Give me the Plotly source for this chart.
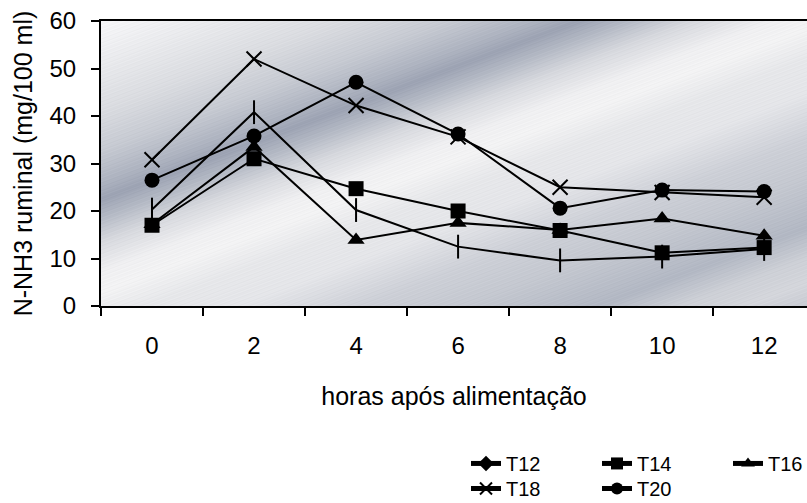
import base64
import struct
import zlib

import numpy as np
import plotly.graph_objects as go

# ---------------- data ----------------
hours = ["0", "2", "4", "6", "8", "10", "12"]
T12 = [20.3, 40.8, 20.2, 12.5, 9.6, 10.4, 12.0]
T14 = [17.0, 31.0, 24.7, 20.0, 15.9, 11.2, 12.3]
T16 = [17.2, 33.5, 13.9, 17.5, 16.0, 18.4, 14.8]
T18 = [30.8, 52.0, 42.2, 35.6, 25.0, 23.9, 22.9]
T20 = [26.5, 35.8, 47.1, 36.2, 20.6, 24.4, 24.1]

y_title = "N-NH3 ruminal (mg/100 ml)"
x_title = "horas após alimentação"


# ---------------- background gradient image ----------------
def make_png(arr):
    h, w, _ = arr.shape
    raw = b"".join(b"\x00" + arr[i].tobytes() for i in range(h))

    def chunk(tag, data):
        c = struct.pack(">I", len(data)) + tag + data
        return c + struct.pack(">I", zlib.crc32(tag + data) & 0xFFFFFFFF)

    return (b"\x89PNG\r\n\x1a\n"
            + chunk(b"IHDR", struct.pack(">IIBBBBB", w, h, 8, 2, 0, 0, 0))
            + chunk(b"IDAT", zlib.compress(raw, 9))
            + chunk(b"IEND", b""))


W, H = 706, 285
xx, yy = np.meshgrid(np.arange(W), np.arange(H))
s = yy + 0.373 * xx
stops = [
    (0, (246, 246, 248)), (40, (232, 233, 236)), (90, (214, 216, 221)),
    (130, (192, 196, 205)), (160, (166, 172, 186)), (178, (146, 153, 171)),
    (195, (170, 176, 189)), (220, (210, 212, 218)), (250, (238, 238, 240)),
    (270, (242, 242, 243)), (300, (228, 229, 232)), (335, (226, 227, 231)),
    (380, (200, 203, 211)), (420, (190, 194, 203)), (470, (170, 176, 189)),
    (500, (200, 203, 210)), (525, (208, 210, 216)), (560, (186, 190, 200)),
]
sp = np.array([p for p, _ in stops], dtype=float)
img = np.zeros((H, W, 3))
for c in range(3):
    img[..., c] = np.interp(s, sp, [col[c] for _, col in stops])
streak = 2.0 * np.sin(s * 1.7) + 1.5 * np.sin(s * 3.1 + 1.0)
img += streak[..., None]
img = 255 - (255 - img) * 0.9
img = np.clip(img, 0, 255).astype(np.uint8)
bg_uri = "data:image/png;base64," + base64.b64encode(make_png(img)).decode()

# ---------------- figure ----------------
fig = go.Figure()
line = dict(color="black", width=2)
series = [
    ("T12", T12, dict(symbol="line-ns-open", size=17, color="black", line=dict(color="black", width=2)), "legend"),
    ("T14", T14, dict(symbol="square", size=15, color="black"), "legend"),
    ("T16", T16, dict(symbol="triangle-up", size=15, color="black"), "legend"),
    ("T18", T18, dict(symbol="x-thin-open", size=15, color="black", line=dict(color="black", width=2)), "legend2"),
    ("T20", T20, dict(symbol="circle", size=15, color="black"), "legend2"),
]
for name, vals, marker, leg in series:
    if name == "T12":
        # legend entry uses a diamond symbol as in the original
        fig.add_trace(go.Scatter(x=[None], y=[None], name=name, mode="lines+markers",
                                 line=line, legend=leg,
                                 marker=dict(symbol="diamond", size=12, color="black")))
        fig.add_trace(go.Scatter(x=hours, y=vals, name=name, mode="lines+markers",
                                 line=line, marker=marker, showlegend=False))
    else:
        fig.add_trace(go.Scatter(x=hours, y=vals, name=name, mode="lines+markers",
                                 line=line, marker=marker, legend=leg))

font_family = "Liberation Sans, Arial, sans-serif"
fig.update_layout(
    width=807, height=503,
    margin=dict(l=101, r=0, t=21, b=197, autoexpand=False),
    paper_bgcolor="white", plot_bgcolor="#dcdee3",
    font=dict(family=font_family, color="black", size=24),
    images=[dict(source=bg_uri, xref="paper", yref="paper", x=0, y=1,
                 sizex=1, sizey=1, sizing="stretch", layer="below",
                 xanchor="left", yanchor="top")],
    xaxis=dict(type="category", range=[-0.5, 6.42], tickson="boundaries",
               ticks="outside", ticklen=8, tickwidth=2, tickcolor="black",
               showline=True, linewidth=2, linecolor="black", mirror=True,
               showgrid=False, zeroline=False, ticklabelstandoff=17,
               tickfont=dict(size=24),
               title=dict(text=x_title, font=dict(size=25), standoff=30)),
    yaxis=dict(range=[0, 60], tickvals=[0, 10, 20, 30, 40, 50, 60],
               ticks="outside", ticklen=8, tickwidth=2, tickcolor="black",
               showline=True, linewidth=2, linecolor="black",
               showgrid=False, zeroline=False, ticklabelstandoff=10,
               tickfont=dict(size=24),
               title=dict(text=y_title, font=dict(size=25), standoff=10)),
    legend=dict(orientation="h", x=0.517, y=-0.484, xanchor="left", yanchor="top",
                font=dict(size=20), entrywidth=86, bgcolor="rgba(0,0,0,0)",
                itemsizing="constant"),
    legend2=dict(orientation="h", x=0.517, y=-0.572, xanchor="left", yanchor="top",
                 font=dict(size=20), entrywidth=86, bgcolor="rgba(0,0,0,0)",
                 itemsizing="constant"),
    showlegend=True,
)

fig.write_html("out.html")
